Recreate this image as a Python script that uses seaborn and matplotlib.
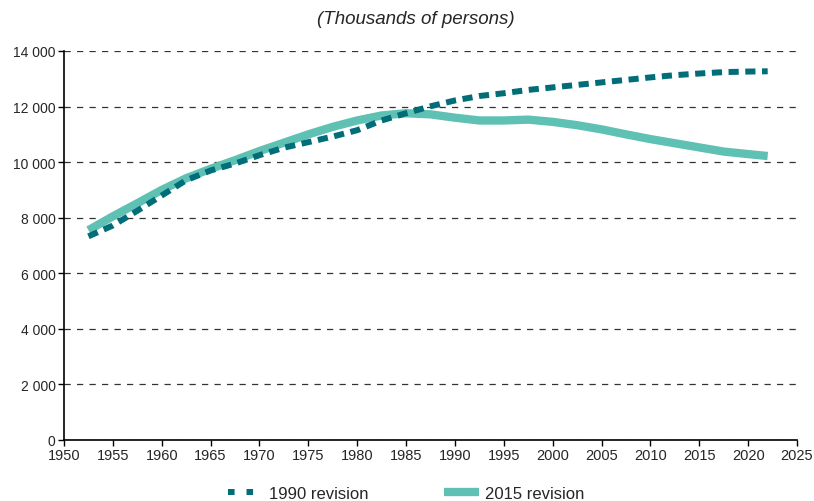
import numpy as np
import pandas as pd
import matplotlib
matplotlib.use("Agg")
import matplotlib.pyplot as plt
import matplotlib.ticker as mticker
from matplotlib.lines import Line2D
import seaborn as sns

# Values (thousands of persons)
years = [1952.5, 1955, 1957.5, 1960, 1962.5, 1965, 1967.5, 1970, 1972.5, 1975,
         1977.5, 1980, 1982.5, 1985, 1987.5, 1990, 1992.5, 1995, 1997.5, 2000,
         2002.5, 2005, 2007.5, 2010, 2012.5, 2015, 2017.5, 2020, 2022]
rev_1990 = [7330, 7720, 8250, 8800, 9350, 9700, 9950, 10250, 10520, 10720,
            10920, 11150, 11500, 11760, 12010, 12220, 12380, 12480, 12600, 12690,
            12780, 12870, 12960, 13050, 13130, 13190, 13240, 13260, 13270]
rev_2015 = [7550, 8050, 8520, 9000, 9420, 9760, 10070, 10400, 10700, 11000,
            11270, 11500, 11680, 11760, 11720, 11600, 11500, 11500, 11530, 11450,
            11330, 11180, 11000, 10830, 10680, 10530, 10380, 10290, 10220]

df = pd.DataFrame({"year": years, "r1990": rev_1990, "r2015": rev_2015})

sns.set_style("ticks")
plt.rcParams["font.family"] = ["Liberation Sans", "DejaVu Sans"]

fig = plt.figure(figsize=(8.14, 5.02), dpi=100)
ax = fig.add_axes([64 / 814, 61 / 502, 733 / 814, 389 / 502])

dark = "#006d78"
light = "#5fc1b3"

sns.lineplot(data=df, x="year", y="r2015", ax=ax, color=light, linewidth=6,
             solid_capstyle="butt", solid_joinstyle="round", zorder=3)
sns.lineplot(data=df, x="year", y="r1990", ax=ax, color=dark, linewidth=4.3,
             zorder=4)
ax.lines[-1].set_dashes([1.7, 1.1])
ax.lines[-1].set_dash_capstyle("butt")

ax.set_xlim(1950, 2025)
ax.set_ylim(0, 14000)
ax.set_xticks(np.arange(1950, 2026, 5))
ax.set_yticks(np.arange(0, 14001, 2000))
ax.yaxis.set_major_formatter(mticker.FuncFormatter(lambda v, p: f"{int(v):,}".replace(",", " ")))
ax.set_xlabel("")
ax.set_ylabel("")
ax.tick_params(axis="x", labelsize=10.5, length=4, width=1, color="black", pad=2)
ax.tick_params(axis="y", labelsize=10, length=4, width=1, color="black", pad=2)
ax.grid(axis="y", linestyle=(0, (5, 5)), color="#333333", linewidth=0.9)
ax.set_axisbelow(True)
for s in ["top", "right"]:
    ax.spines[s].set_visible(False)
for s in ["left", "bottom"]:
    ax.spines[s].set_color("black")
    ax.spines[s].set_linewidth(1.2)

h90 = Line2D([], [], color=dark, linewidth=4.3, dashes=[1.1, 2.0], dash_capstyle="butt")
h15 = Line2D([], [], color=light, linewidth=6, solid_capstyle="butt")
fig.legend([h90, h15], ["1990 revision", "2015 revision"], loc="lower center", ncol=2,
           bbox_to_anchor=(0.499, -0.03), frameon=False, fontsize=12,
           handlelength=2.1, handletextpad=0.35, columnspacing=4.5)

fig.text(416 / 814, 1 - 20 / 502, "(Thousands of persons)", ha="center",
         va="center", fontsize=13.5, style="italic")

fig.savefig("out.png", dpi=100)
